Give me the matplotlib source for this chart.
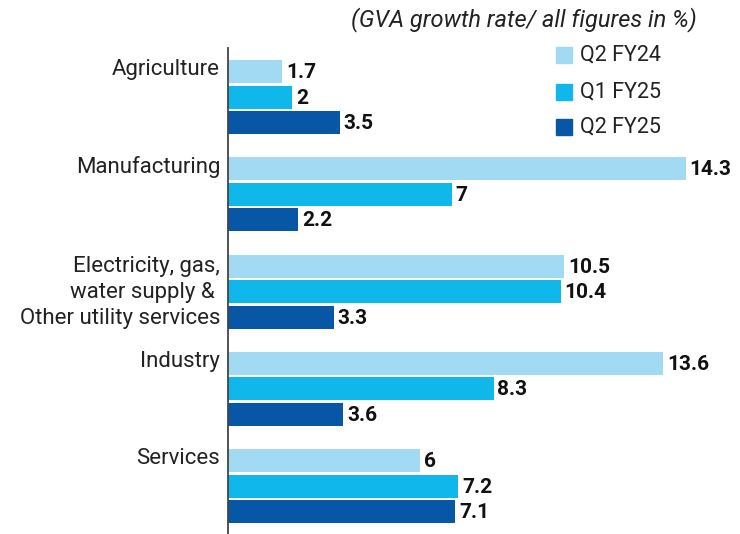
import matplotlib.pyplot as plt
import numpy as np

categories = ['Agriculture', 'Manufacturing',
              'Electricity, gas,\nwater supply & \nOther utility services',
              'Industry', 'Services']
series = ['Q2 FY24', 'Q1 FY25', 'Q2 FY25']
q2_fy24 = [1.7, 14.3, 10.5, 13.6, 6]
q1_fy25 = [2, 7, 10.4, 8.3, 7.2]
q2_fy25 = [3.5, 2.2, 3.3, 3.6, 7.1]
colors = ['#a3daf3', '#10b7ea', '#0757a6']

plt.rcParams['font.family'] = ['Roboto', 'DejaVu Sans']

fig = plt.figure(figsize=(7.4, 5.34), dpi=100)
# axes spans from the y-axis line (x=228px) to the right edge, y 48..534 px
ax = fig.add_axes([228 / 740, 0, 1 - 228 / 740, (534 - 48) / 534])

group_pitch = 97.3
bar_pitch = 25.5
bar_h = 23
top0 = 60 - 48  # first bar top, relative to axes top

values = [q2_fy24, q1_fy25, q2_fy25]
for j, (vals, col, name) in enumerate(zip(values, colors, series)):
    y = top0 + np.arange(len(categories)) * group_pitch + bar_h / 2 + j * bar_pitch
    ax.barh(y, vals, height=bar_h, color=col, label=name)
    for yy, v in zip(y, vals):
        ax.text(v + 0.12, yy + 1, f'{v:g}', va='center', ha='left',
                fontsize=15, fontweight='bold', color='#111111')

ax.set_xlim(0, (740 - 228) / 32.0)
ax.set_ylim(534 - 48, 0)

for s in ['top', 'right', 'bottom']:
    ax.spines[s].set_visible(False)
ax.spines['left'].set_color('#444444')
ax.spines['left'].set_linewidth(1.3)
ax.set_xticks([])
ax.set_yticks([])

# category labels
for i, cat in enumerate(categories):
    if '\n' in cat:
        yc = top0 + i * group_pitch + bar_h / 2 + bar_pitch + 1
        ax.text(-0.25, yc, cat, ha='right', va='center', fontsize=16,
                color='#222222', linespacing=1.32)
    else:
        yc = top0 + i * group_pitch + bar_h / 2 - 2
        ax.text(-0.25, yc, cat, ha='right', va='center', fontsize=16,
                color='#222222')

# subtitle
fig.text(697 / 740, 1 - 20 / 534, '(GVA growth rate/ all figures in %)',
         ha='right', va='center', fontsize=17, style='italic', color='#222222')

# legend
leg_y = [55, 92, 127]
for name, col, ly in zip(series, colors, leg_y):
    fig.patches.append(plt.Rectangle((556 / 740, 1 - (ly + 8) / 534), 16 / 740, 16 / 534,
                                     transform=fig.transFigure, color=col))
    fig.text(580 / 740, 1 - ly / 534, name, ha='left', va='center',
             fontsize=15.5, color='#222222')

plt.savefig('out.png', dpi=100)
